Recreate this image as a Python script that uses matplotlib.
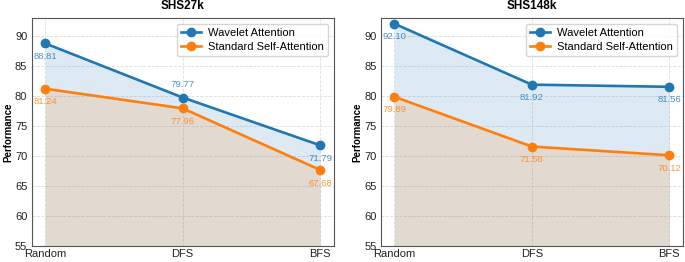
import matplotlib.pyplot as plt
import matplotlib

matplotlib.rcParams['font.family'] = ['Liberation Sans', 'DejaVu Sans']
matplotlib.rcParams['font.size'] = 8

strategies = ['Random', 'DFS', 'BFS']
titles = ['SHS27k', 'SHS148k']
wavelet = [[88.81, 79.77, 71.79], [92.10, 81.92, 81.56]]
standard = [[81.24, 77.96, 67.68], [79.89, 71.58, 70.12]]
# label above (+1) or below (-1) the wavelet point
wavelet_side = [[-1, 1, -1], [-1, -1, -1]]

blue = '#1f77b4'
orange = '#ff7f0e'

fig, axes = plt.subplots(1, 2, figsize=(6.85, 2.62), dpi=100)
fig.subplots_adjust(left=0.046, right=0.997, top=0.93, bottom=0.062, wspace=0.155)

x = range(len(strategies))
for k, ax in enumerate(axes):
    w = wavelet[k]
    s = standard[k]
    ax.fill_between(x, w, 55, color=blue, alpha=0.15, lw=0)
    ax.fill_between(x, s, 55, color=orange, alpha=0.15, lw=0)
    ax.plot(x, w, '-o', color=blue, lw=1.9, ms=6, label='Wavelet Attention')
    ax.plot(x, s, '-o', color=orange, lw=1.9, ms=6, label='Standard Self-Attention')
    for i in x:
        ax.annotate(f'{w[i]:.2f}', (i, w[i]), xytext=(0, 9.5 * wavelet_side[k][i]),
                    textcoords='offset points', ha='center', va='center',
                    fontsize=6.8, color=blue, alpha=0.8)
        ax.annotate(f'{s[i]:.2f}', (i, s[i]), xytext=(0, -9.5), textcoords='offset points',
                    ha='center', va='center', fontsize=6.8, color=orange, alpha=0.8)
    ax.set_xlim(-0.1, 2.1)
    ax.set_ylim(55, 93)
    ax.set_xticks(list(x))
    ax.set_xticklabels(strategies)
    ax.set_yticks([55, 60, 65, 70, 75, 80, 85, 90])
    ax.grid(True, linestyle='--', color='#dddddd', lw=0.6)
    ax.set_axisbelow(True)
    for sp in ax.spines.values():
        sp.set_color('#555555')
    ax.tick_params(length=0, colors='#222222', labelsize=8)
    ax.tick_params(axis='x', pad=2.5)
    ax.tick_params(axis='y', pad=3)
    ax.set_title(titles[k], fontweight='bold', fontsize=8.5, pad=7)
    ax.set_ylabel('Performance', fontweight='bold', fontsize=7, labelpad=1.5)
    ax.legend(loc='upper right', fontsize=8, handlelength=1.8, borderpad=0.4,
              labelspacing=0.3, handletextpad=0.6)

plt.savefig('out.png', dpi=100)
